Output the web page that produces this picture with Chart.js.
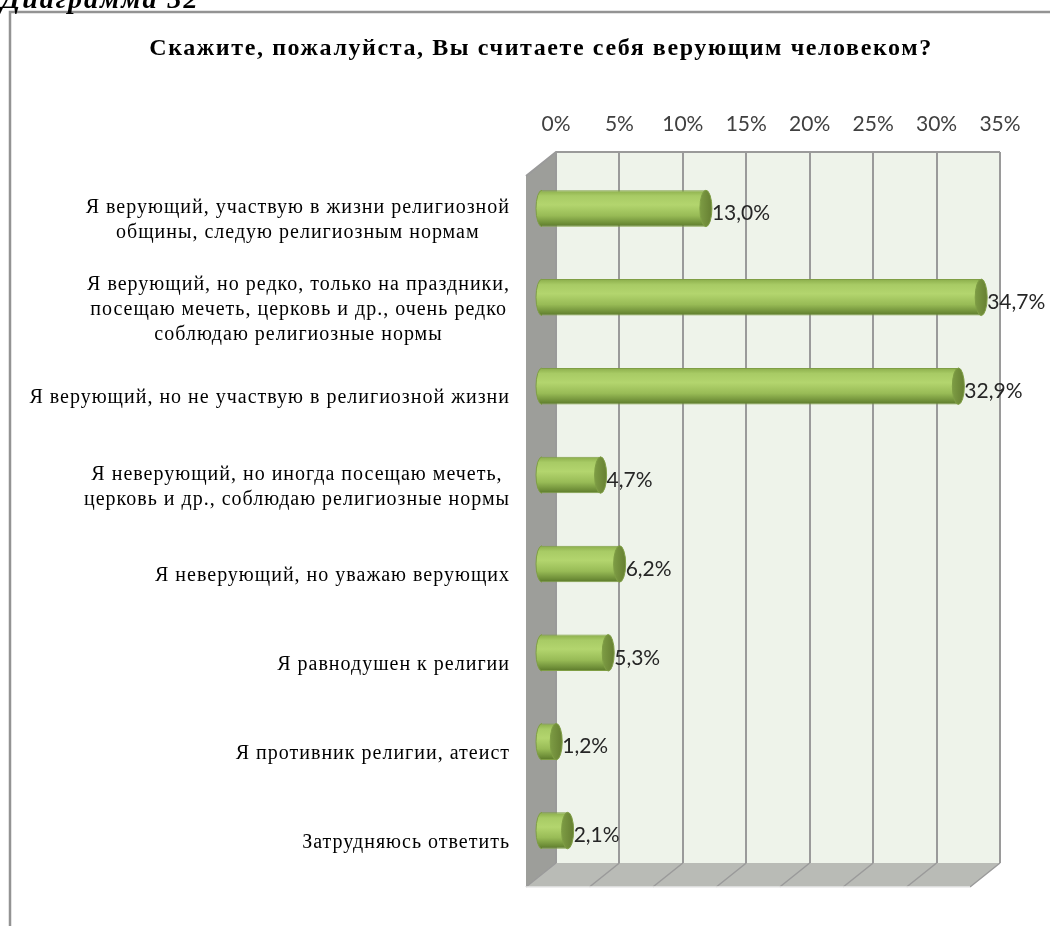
<!DOCTYPE html>
<html>
<head>
<meta charset="utf-8">
<script src="https://cdn.jsdelivr.net/npm/chart.js@4.4.1/dist/chart.umd.min.js"></script>
<style>
  html, body { margin: 0; padding: 0; background: #fff; overflow: hidden; }
  #wrap { position: relative; width: 1050px; height: 926px; }
  #cap { position: absolute; left: 1px; top: -15px; font: italic bold 28px 'Liberation Serif', serif; line-height: 28px; letter-spacing: 2px; color: #000; white-space: nowrap; }
  canvas { position: absolute; left: 0; top: 0; }
</style>
</head>
<body>
<div id="wrap">
  <canvas id="c" width="1050" height="926"></canvas>
  <div id="cap">Диаграмма 32</div>
</div>
<script>
const title = 'Скажите, пожалуйста, Вы считаете себя верующим человеком?';
const categories = [
  ['Я верующий, участвую в жизни религиозной', 'общины, следую религиозным нормам'],
  ['Я верующий, но редко, только на праздники,', 'посещаю мечеть, церковь и др., очень редко', 'соблюдаю религиозные нормы'],
  ['Я верующий, но не участвую в религиозной жизни'],
  ['Я неверующий, но иногда посещаю мечеть,', 'церковь и др., соблюдаю религиозные нормы'],
  ['Я неверующий, но уважаю верующих'],
  ['Я равнодушен к религии'],
  ['Я противник религии, атеист'],
  ['Затрудняюсь ответить']
];
const values = [13.0, 34.7, 32.9, 4.7, 6.2, 5.3, 1.2, 2.1];
const axisMax = 35, axisStep = 5;

// 3d depth of the plot (front edge is shifted left/down from the back wall)
const DX = -30, DY = 24;
const sansFont = "Lato, 'Open Sans', sans-serif";
const serifFont = "'Liberation Serif', 'Times New Roman', serif";

function fmt(v) { return v.toFixed(1).replace('.', ',') + '%'; }

function barFill(c) {
  const ch = c.chart;
  if (!ch.chartArea) return '#9fc25a';
  const y = ch.scales.y.getPixelForValue(c.dataIndex);
  const g = ch.ctx.createLinearGradient(0, y - 18, 0, y + 18);
  g.addColorStop(0, '#8cae4c');
  g.addColorStop(0.15, '#a8cb65');
  g.addColorStop(0.4, '#b3d56e');
  g.addColorStop(0.7, '#98bb56');
  g.addColorStop(0.9, '#71913a');
  g.addColorStop(1, '#5c7a2b');
  return g;
}

const walls = {
  id: 'walls',
  beforeDraw(ch) {
    const { ctx, chartArea: a } = ch;
    const xs = ch.scales.x;
    ctx.save();
    // outer frame
    ctx.strokeStyle = '#939393'; ctx.lineWidth = 2.5;
    ctx.beginPath(); ctx.moveTo(10, 926); ctx.lineTo(10, 12); ctx.lineTo(1050, 12); ctx.stroke();
    // back wall
    ctx.fillStyle = '#eef3ea';
    ctx.fillRect(a.left, a.top, a.right - a.left, a.bottom - a.top);
    // side wall
    ctx.fillStyle = '#9d9e9a';
    ctx.beginPath();
    ctx.moveTo(a.left, a.top); ctx.lineTo(a.left + DX, a.top + DY);
    ctx.lineTo(a.left + DX, a.bottom + DY); ctx.lineTo(a.left, a.bottom); ctx.closePath(); ctx.fill();
    // floor
    ctx.fillStyle = '#b9bbb6';
    ctx.beginPath();
    ctx.moveTo(a.left, a.bottom); ctx.lineTo(a.right, a.bottom);
    ctx.lineTo(a.right + DX, a.bottom + DY); ctx.lineTo(a.left + DX, a.bottom + DY); ctx.closePath(); ctx.fill();
    ctx.strokeStyle = '#9a9a9a'; ctx.lineWidth = 1.5;
    for (let v = 0; v <= axisMax; v += axisStep) {
      const x = xs.getPixelForValue(v);
      ctx.beginPath(); ctx.moveTo(x, a.bottom); ctx.lineTo(x + DX, a.bottom + DY); ctx.stroke();
    }
    ctx.strokeStyle = '#e8e8e8';
    ctx.beginPath(); ctx.moveTo(a.left + DX, a.bottom + DY); ctx.lineTo(a.right + DX, a.bottom + DY); ctx.stroke();
    ctx.strokeStyle = '#9a9a9a'; ctx.lineWidth = 2;
    ctx.beginPath(); ctx.moveTo(a.left + DX, a.top + DY); ctx.lineTo(a.left, a.top); ctx.lineTo(a.right, a.top); ctx.stroke();
    ctx.restore();
  },
  afterDraw(ch) {
    const { ctx } = ch;
    const ys = ch.scales.y;
    ctx.save();
    // title
    ctx.font = 'bold 24px ' + serifFont;
    ctx.letterSpacing = '1.6px';
    ctx.fillStyle = '#000';
    ctx.textAlign = 'center';
    ctx.textBaseline = 'alphabetic';
    ctx.fillText(title, 541, 55);
    // category labels, centred as blocks and right-aligned to the front edge
    ctx.font = '20px ' + serifFont;
    ctx.letterSpacing = '1px';
    ctx.textBaseline = 'middle';
    const right = 510, lh = 25;
    categories.forEach((lines, i) => {
      const w = Math.max(...lines.map(l => ctx.measureText(l).width));
      const cx = right - w / 2;
      const cy = ys.getPixelForValue(i) + DY;
      lines.forEach((l, k) => ctx.fillText(l, cx, cy + (k - (lines.length - 1) / 2) * lh));
    });
    ctx.restore();
  }
};

const bars3d = {
  id: 'bars3d',
  beforeDatasetsDraw(ch) {
    ch.ctx.save();
    ch.ctx.translate(DX / 2, DY / 2);
  },
  afterDatasetsDraw(ch) {
    const { ctx } = ch;
    const meta = ch.getDatasetMeta(0);
    meta.data.forEach((bar, i) => {
      const h = bar.height / 2, rx = 6;
      // rounded left end
      ctx.fillStyle = barFill({ chart: ch, dataIndex: i });
      ctx.beginPath(); ctx.ellipse(bar.base, bar.y, rx, h, 0, Math.PI / 2, Math.PI * 1.5); ctx.fill();
      ctx.strokeStyle = '#7f9e45'; ctx.lineWidth = 1;
      ctx.stroke();
      // end cap
      const g = ctx.createLinearGradient(bar.x - rx, 0, bar.x + rx, 0);
      g.addColorStop(0, '#7d9c44'); g.addColorStop(1, '#667f32');
      ctx.fillStyle = g;
      ctx.beginPath(); ctx.ellipse(bar.x, bar.y, rx, h, 0, 0, Math.PI * 2); ctx.fill();
      ctx.strokeStyle = '#7f9e45'; ctx.stroke();
      // value label
      ctx.font = '21px ' + sansFont;
      ctx.fillStyle = '#262626';
      ctx.textAlign = 'left'; ctx.textBaseline = 'middle';
      ctx.fillText(fmt(values[i]), bar.x + rx, bar.y + 5);
    });
    ctx.restore();
  }
};

new Chart(document.getElementById('c'), {
  type: 'bar',
  data: {
    labels: categories,
    datasets: [{
      data: values,
      backgroundColor: barFill,
      borderColor: '#7f9e45',
      borderWidth: { top: 1, bottom: 1, left: 0, right: 0 },
      categoryPercentage: 1,
      barPercentage: 0.41
    }]
  },
  plugins: [walls, bars3d],
  options: {
    indexAxis: 'y',
    responsive: false,
    animation: false,
    layout: { padding: { left: 32, right: 50, top: 72, bottom: 63 } },
    plugins: {
      legend: { display: false },
      tooltip: { enabled: false },
      title: { display: false, text: title }
    },
    scales: {
      x: {
        position: 'top', min: 0, max: axisMax,
        afterFit(s) { s.height = 80; },
        ticks: { stepSize: axisStep, padding: 15, color: '#404040', font: { family: sansFont, size: 21 }, callback: v => v + '%' },
        grid: { color: '#9a9a9a', lineWidth: 2, drawTicks: false },
        border: { display: false }
      },
      y: {
        afterFit(s) { s.width = 524; },
        ticks: { display: false },
        grid: { display: false },
        border: { display: false }
      }
    }
  }
});
</script>
</body>
</html>
